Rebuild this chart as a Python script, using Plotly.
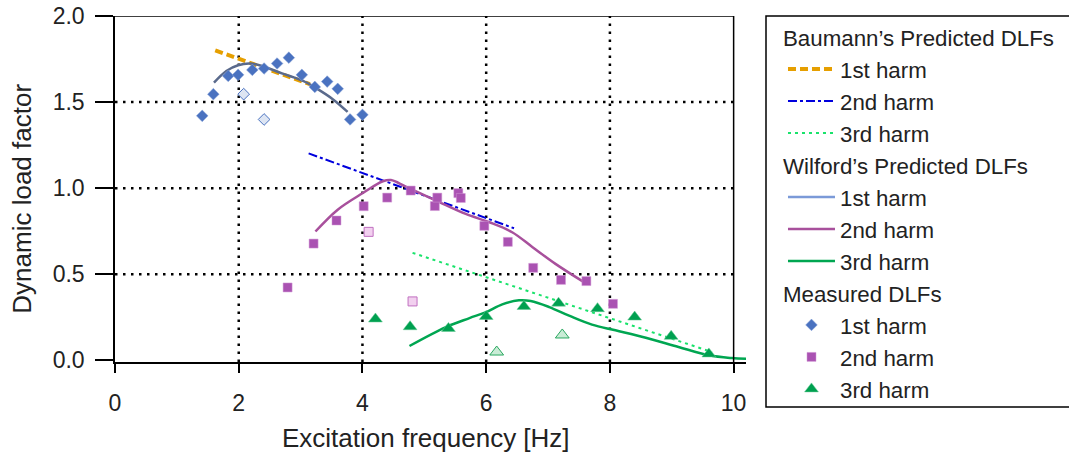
import plotly.graph_objects as go

# ---- data ----
baumann_1_x = [1.62, 3.15]
baumann_1_y = [1.80, 1.604]
baumann_2_x = [3.13, 6.45]
baumann_2_y = [1.202, 0.767]
baumann_3_x = [4.81, 9.65]
baumann_3_y = [0.624, 0.048]

wilford_1_x = [1.60, 1.80, 1.99, 2.18, 2.39, 2.71, 3.04, 3.25, 3.52, 3.76]
wilford_1_y = [1.613, 1.681, 1.714, 1.724, 1.708, 1.665, 1.623, 1.581, 1.517, 1.443]
wilford_2_x = [3.24, 3.60, 4.00, 4.33, 4.46, 4.70, 5.19, 5.67, 6.05, 6.42, 6.75, 7.12, 7.58]
wilford_2_y = [0.748, 0.875, 0.970, 1.040, 1.047, 1.009, 0.928, 0.850, 0.802, 0.744, 0.657, 0.560, 0.454]
wilford_3_x = [4.76, 5.35, 5.73, 6.00, 6.26, 6.53, 6.72, 7.02, 7.34, 7.71, 8.09, 8.58, 9.11, 9.60, 9.97, 10.24]
wilford_3_y = [0.083, 0.193, 0.245, 0.280, 0.325, 0.348, 0.344, 0.309, 0.259, 0.207, 0.174, 0.131, 0.077, 0.029, 0.013, 0.008]

meas_1_x = [1.41, 1.59, 1.83, 1.99, 2.22, 2.41, 2.62, 2.81, 3.02, 3.23, 3.43, 3.60, 3.80, 4.00]
meas_1_y = [1.42, 1.546, 1.652, 1.658, 1.687, 1.695, 1.724, 1.758, 1.658, 1.588, 1.619, 1.577, 1.399, 1.426]
meas_1_open_x = [2.08, 2.41]
meas_1_open_y = [1.546, 1.399]

meas_2_x = [2.79, 3.21, 3.58, 4.02, 4.40, 4.78, 5.17, 5.21, 5.55, 5.59, 5.97, 6.35, 6.76, 7.21, 7.62, 8.05]
meas_2_y = [0.423, 0.678, 0.812, 0.895, 0.945, 0.986, 0.896, 0.945, 0.971, 0.943, 0.781, 0.688, 0.537, 0.467, 0.460, 0.328]
meas_2_open_x = [4.10, 4.81]
meas_2_open_y = [0.746, 0.342]

meas_3_x = [4.21, 4.77, 5.39, 6.00, 6.61, 7.17, 7.80, 8.40, 8.99, 9.60]
meas_3_y = [0.240, 0.195, 0.185, 0.255, 0.313, 0.332, 0.300, 0.251, 0.139, 0.037]
meas_3_open_x = [6.17, 7.23]
meas_3_open_y = [0.048, 0.147]

x_ticks = [0, 2, 4, 6, 8, 10]
y_ticks = [0.0, 0.5, 1.0, 1.5, 2.0]
y_tick_text = ["0.0", "0.5", "1.0", "1.5", "2.0"]
grid_x = [2, 4, 6, 8]
grid_y = [0.5, 1.0, 1.5]

FONT = "Liberation Sans, Arial, sans-serif"
TXT = "#222222"

fig = go.Figure()

# Baumann
fig.add_trace(go.Scatter(x=baumann_1_x, y=baumann_1_y, mode="lines", name="1st harm",
                         line=dict(color="#e69f00", width=4, dash="8px,4px"),
                         legendgroup="b", legendgrouptitle_text="Baumann\u2019s Predicted DLFs"))
fig.add_trace(go.Scatter(x=baumann_2_x, y=baumann_2_y, mode="lines", name="2nd harm",
                         line=dict(color="#0000dd", width=2, dash="9px,3px,3px,3px"),
                         legendgroup="b"))
fig.add_trace(go.Scatter(x=baumann_3_x, y=baumann_3_y, mode="lines", name="3rd harm",
                         line=dict(color="#19e36b", width=2, dash="3px,4px"),
                         legendgroup="b"))

# Wilford
fig.add_trace(go.Scatter(x=wilford_1_x, y=wilford_1_y, mode="lines", name="1st harm",
                         line=dict(color="#5a6a8c", width=2.5, shape="spline"),
                         legendgroup="w", showlegend=False))
fig.add_trace(go.Scatter(x=[None], y=[None], mode="lines", name="1st harm",
                         line=dict(color="#7b9ad8", width=2.5),
                         legendgroup="w", legendgrouptitle_text="Wilford\u2019s Predicted DLFs"))
fig.add_trace(go.Scatter(x=wilford_2_x, y=wilford_2_y, mode="lines", name="2nd harm",
                         line=dict(color="#a8509c", width=2.5, shape="spline"),
                         legendgroup="w"))
fig.add_trace(go.Scatter(x=wilford_3_x, y=wilford_3_y, mode="lines", name="3rd harm",
                         line=dict(color="#00a651", width=2.5, shape="spline"),
                         legendgroup="w"))

# Measured
fig.add_trace(go.Scatter(x=meas_1_open_x, y=meas_1_open_y, mode="markers", showlegend=False,
                         marker=dict(symbol="diamond", size=9, color="#dde5f3",
                                     line=dict(color="#4a72c0", width=1)), legendgroup="m"))
fig.add_trace(go.Scatter(x=meas_2_open_x, y=meas_2_open_y, mode="markers", showlegend=False,
                         marker=dict(symbol="square", size=9, color="#f2d0ef",
                                     line=dict(color="#c070c0", width=1)), legendgroup="m"))
fig.add_trace(go.Scatter(x=meas_3_open_x, y=meas_3_open_y, mode="markers", showlegend=False,
                         marker=dict(symbol="triangle-up", size=12, color="#c9ecd6",
                                     line=dict(color="#2aa860", width=1)), legendgroup="m"))
fig.add_trace(go.Scatter(x=meas_1_x, y=meas_1_y, mode="markers", name="1st harm",
                         marker=dict(symbol="diamond", size=9, color="#4a72c0",
                                     line=dict(color="#8aa4d8", width=0.5)),
                         legendgroup="m", legendgrouptitle_text="Measured DLFs"))
fig.add_trace(go.Scatter(x=meas_2_x, y=meas_2_y, mode="markers", name="2nd harm",
                         marker=dict(symbol="square", size=9, color="#aa52b2",
                                     line=dict(color="#d29ad6", width=0.5)),
                         legendgroup="m"))
fig.add_trace(go.Scatter(x=meas_3_x, y=meas_3_y, mode="markers", name="3rd harm",
                         marker=dict(symbol="triangle-up", size=12, color="#00a050",
                                     line=dict(color="#60c890", width=0.5)),
                         legendgroup="m"))

shapes = []
for gx in grid_x:
    shapes.append(dict(type="line", xref="x", yref="y", x0=gx, x1=gx, y0=-0.01, y1=2.0,
                       line=dict(color="black", width=2.5, dash="2.5px,5.5px"), layer="below"))
for gy in grid_y:
    shapes.append(dict(type="line", xref="x", yref="y", x0=0, x1=10, y0=gy, y1=gy,
                       line=dict(color="black", width=2.5, dash="2.5px,5.5px"), layer="below"))
shapes.append(dict(type="line", xref="x", yref="y", x0=0, x1=10, y0=2.0, y1=2.0,
                   line=dict(color="black", width=1.5)))
shapes.append(dict(type="line", xref="x", yref="y", x0=10, x1=10, y0=-0.01, y1=2.0,
                   line=dict(color="black", width=1.5)))
# legend frame
shapes.append(dict(type="rect", xref="paper", yref="paper", x0=1.0317, x1=1.55, y0=-0.130, y1=1.0,
                   line=dict(color="black", width=1.5), fillcolor="rgba(0,0,0,0)"))

fig.update_layout(
    width=1069, height=455,
    margin=dict(l=115, r=323, t=16, b=93, autoexpand=False),
    paper_bgcolor="white", plot_bgcolor="white",
    font=dict(family=FONT, size=23, color=TXT),
    shapes=shapes,
    showlegend=True,
    legend=dict(x=1.0507, xanchor="left", y=1.0, yanchor="top",
                borderwidth=0, bgcolor="rgba(0,0,0,0)",
                font=dict(family=FONT, size=22.3, color=TXT),
                grouptitlefont=dict(family=FONT, size=22.3, color=TXT),
                traceorder="grouped", tracegroupgap=0, itemwidth=47,
                indentation=5, maxheight=450),
    xaxis=dict(range=[0, 10.2], tickvals=x_ticks, ticktext=[str(v) for v in x_ticks],
               showgrid=False, zeroline=False, showline=True, linecolor="black", linewidth=1.5,
               ticks="outside", ticklen=9, tickwidth=1.5, tickcolor="black",
               ticklabelstandoff=11, tickfont=dict(size=23, color=TXT)),
    yaxis=dict(range=[-0.01, 2.0], tickvals=y_ticks, ticktext=y_tick_text,
               showgrid=False, zeroline=False, showline=True, linecolor="black", linewidth=1.5,
               ticks="outside", ticklen=18, tickwidth=1.5, tickcolor="black",
               ticklabelstandoff=6, tickfont=dict(size=23, color=TXT)),
    annotations=[
        dict(text="Excitation frequency [Hz]", xref="x", yref="paper", x=5.03, y=-0.22,
             xanchor="center", yanchor="middle", showarrow=False,
             font=dict(family=FONT, size=26, color=TXT)),
        dict(text="Dynamic load factor", xref="paper", yref="y", x=-0.147, y=0.94,
             xanchor="center", yanchor="middle", textangle=-90, showarrow=False,
             font=dict(family=FONT, size=26, color=TXT)),
    ],
)

fig.write_html("out.html")
